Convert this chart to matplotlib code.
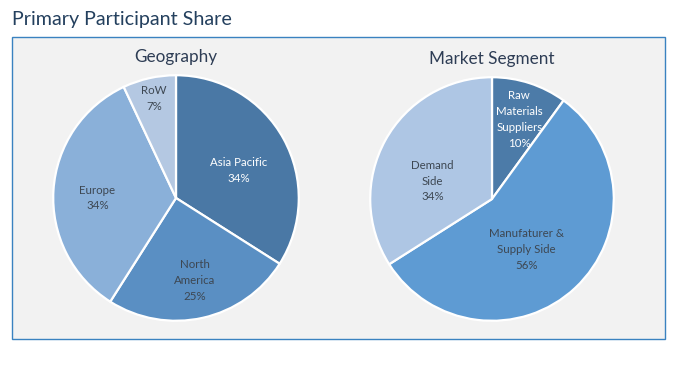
import numpy as np
import matplotlib
matplotlib.use("Agg")
import matplotlib.pyplot as plt
from matplotlib.patches import Rectangle

geo_labels = ["Asia Pacific", "North\nAmerica", "Europe", "RoW"]
geo_values = [34, 25, 34, 7]
seg_labels = ["Raw\nMaterials\nSuppliers", "Manufaturer &\nSupply Side", "Demand\nSide"]
seg_values = [10, 56, 34]

geo_colors = ["#4A78A5", "#5A8FC3", "#8AB0D9", "#B4C8E2"]
seg_colors = ["#4C7BA8", "#5E9BD3", "#AEC6E4"]
dark = "#3D4752"
geo_text = ["white", dark, dark, dark]
seg_text = ["white", dark, dark]
# where each label sits (fraction of radius, angle tweak in degrees)
geo_pos = [(0.56, -5), (0.69, 0), (0.64, 3.6), (0.83, 0)]
seg_pos = [(0.69, -1), (0.50, -9), (0.51, 12)]

plt.rcParams['font.family'] = ['Lato', 'DejaVu Sans']

W, H = 680, 370
fig = plt.figure(figsize=(W / 100, H / 100), dpi=100)


def px(x, y, w, h):
    return [x / W, 1 - (y + h) / H, w / W, h / H]


fig.patches.append(Rectangle((12 / W, 1 - 339 / H), 653 / W, 302 / H, transform=fig.transFigure,
                             facecolor="#F2F2F2", edgecolor="#3A82C0", linewidth=1.0, zorder=-10))
fig.text(12 / W, 1 - 19 / H, "Primary Participant Share", fontsize=14.2, color="#24405E",
         va="center", ha="left")


def draw_pie(rect, values, labels, colors, tcolors, pos, title, title_y):
    ax = fig.add_axes(rect)
    wedges, _ = ax.pie(values, colors=colors, startangle=90, counterclock=False, radius=1,
                       wedgeprops=dict(edgecolor="white", linewidth=1.6))
    ax.set_xlim(-1.01, 1.01)
    ax.set_ylim(-1.01, 1.01)
    ax.set_aspect("equal")
    ax.axis("off")
    for w, lab, v, tc, (r, da) in zip(wedges, labels, values, tcolors, pos):
        ang = np.deg2rad((w.theta1 + w.theta2) / 2 + da)
        ax.text(r * np.cos(ang), r * np.sin(ang), f"{lab}\n{v}%", ha="center", va="center",
                fontsize=8.3, color=tc, linespacing=1.55)
    cx = rect[0] + rect[2] / 2
    fig.text(cx, 1 - title_y / H, title, fontsize=12.3, color="#2E3D55", ha="center", va="center")


draw_pie(px(52, 74, 248, 248), geo_values, geo_labels, geo_colors, geo_text, geo_pos,
         "Geography", 57)
draw_pie(px(369, 76, 246, 246), seg_values, seg_labels, seg_colors, seg_text, seg_pos,
         "Market Segment", 59)

fig.savefig("out.png", dpi=100)
